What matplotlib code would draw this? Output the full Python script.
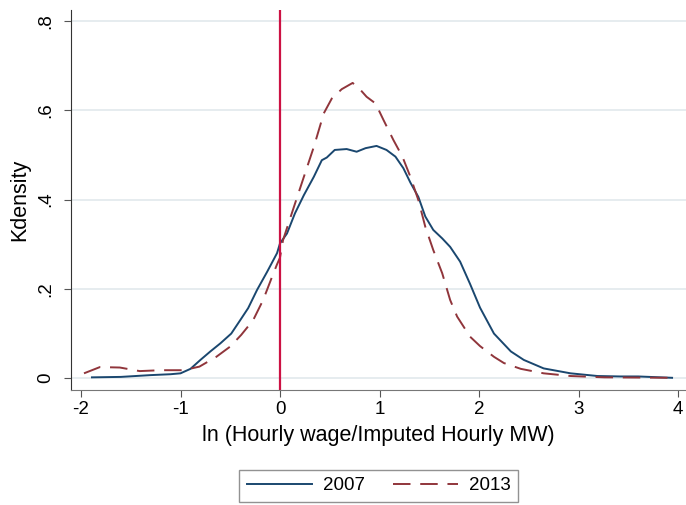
import matplotlib.pyplot as plt

plt.rcParams['font.family'] = ['Liberation Sans', 'DejaVu Sans']
plt.rcParams['axes.unicode_minus'] = False

# -------------------------------------------------------------------------
# Data
# -------------------------------------------------------------------------
x_2007 = [-1.89, -1.6, -1.3, -1.1, -1.0, -0.9, -0.8, -0.7, -0.6, -0.49,
          -0.4, -0.32, -0.23, -0.13, -0.03, 0.0, 0.07, 0.15, 0.24, 0.34,
          0.42, 0.47, 0.55, 0.67, 0.77, 0.86, 0.97, 1.07, 1.16, 1.24,
          1.31, 1.39, 1.46, 1.54, 1.63, 1.71, 1.81, 1.91, 2.01, 2.15,
          2.32, 2.45, 2.65, 2.92, 3.19, 3.42, 3.6, 3.94]
y_2007 = [0.002, 0.003, 0.007, 0.009, 0.011, 0.021, 0.041, 0.06, 0.078, 0.10,
          0.13, 0.157, 0.198, 0.238, 0.28, 0.302, 0.324, 0.369, 0.41, 0.451,
          0.488, 0.494, 0.511, 0.513, 0.507, 0.515, 0.52, 0.511, 0.496, 0.47,
          0.438, 0.406, 0.362, 0.332, 0.313, 0.294, 0.261, 0.211, 0.158, 0.10,
          0.06, 0.041, 0.022, 0.011, 0.005, 0.004, 0.004, 0.001]

x_2013 = [-1.97, -1.81, -1.61, -1.41, -1.2, -0.97, -0.81, -0.64, -0.5, -0.39,
          -0.27, -0.17, -0.08, -0.03, 0.0, 0.03, 0.13, 0.24, 0.34, 0.44,
          0.52, 0.62, 0.73, 0.81, 0.87, 0.96, 1.04, 1.14, 1.23, 1.31,
          1.39, 1.46, 1.54, 1.63, 1.71, 1.78, 1.91, 2.01, 2.15, 2.25,
          2.42, 2.65, 2.92, 3.26, 3.94]
y_2013 = [0.011, 0.025, 0.024, 0.016, 0.018, 0.018, 0.026, 0.048, 0.071, 0.097,
          0.13, 0.175, 0.227, 0.255, 0.27, 0.309, 0.377, 0.451, 0.518, 0.593,
          0.626, 0.647, 0.661, 0.645, 0.63, 0.615, 0.578, 0.533, 0.496, 0.451,
          0.399, 0.339, 0.287, 0.235, 0.175, 0.138, 0.093, 0.072, 0.048, 0.034,
          0.021, 0.011, 0.005, 0.002, 0.001]

x_ticks = [-2, -1, 0, 1, 2, 3, 4]
y_ticks = [0, 0.2, 0.4, 0.6, 0.8]
y_ticklabels = ['0', '.2', '.4', '.6', '.8']
cutoff = 0

# -------------------------------------------------------------------------
# Plot
# -------------------------------------------------------------------------
fig = plt.figure(figsize=(6.86, 5.05), dpi=100)
ax = fig.add_axes([0.103, 0.228, 0.897, 0.752])

ax.set_xlim(-2.104, 4.08)
ax.set_ylim(-0.026, 0.824)

for yt in y_ticks:
    ax.axhline(yt, color='#e1e9ec', lw=1.2, zorder=0)

l1, = ax.plot(x_2007, y_2007, color='#1a476f', lw=1.4, label='2007')
l2, = ax.plot(x_2013, y_2013, color='#90353b', lw=1.4,
              dashes=(9, 5), label='2013')
ax.axvline(cutoff, color='#cc1143', lw=1.6)

ax.set_xticks(x_ticks)
ax.set_yticks(y_ticks)
ax.set_yticklabels(y_ticklabels)
ax.tick_params(labelsize=13.5, length=5, color='#555555', pad=3)
ax.tick_params(axis='y', labelrotation=90, pad=7)
for lab in ax.get_yticklabels():
    lab.set_va('center')

for s in ['top', 'right']:
    ax.spines[s].set_visible(False)
ax.spines['left'].set_color('#333333')
ax.spines['bottom'].set_color('#777777')

ax.set_ylabel('Kdensity', fontsize=15.5, labelpad=5)
ax.set_xlabel('ln (Hourly wage/Imputed Hourly MW)', fontsize=15.5, labelpad=5)

leg = fig.legend(handles=[l1, l2], loc='lower center', ncol=2,
                 bbox_to_anchor=(0.552, -0.012), fontsize=13.5,
                 frameon=True, fancybox=False, handlelength=3.5,
                 handletextpad=0.55, columnspacing=1.5, borderpad=0.4)
leg.get_frame().set_edgecolor('#777777')
leg.get_frame().set_linewidth(1.0)

fig.savefig('out.png', dpi=100)
